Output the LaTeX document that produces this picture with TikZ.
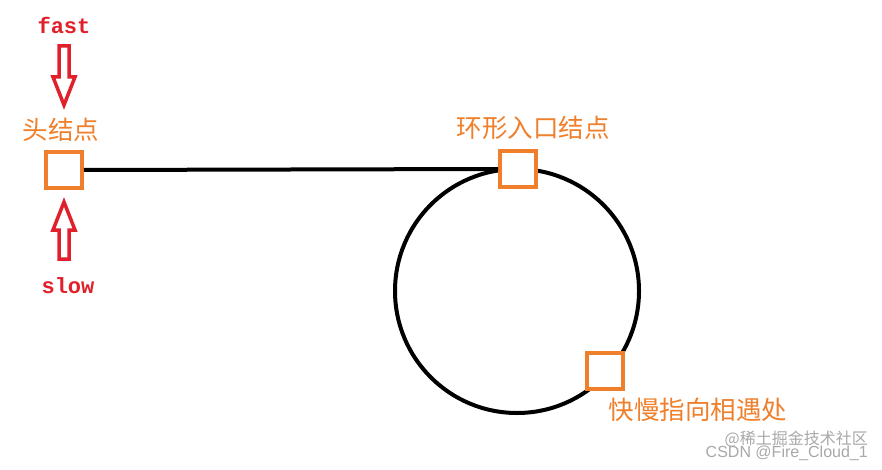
\documentclass[tikz,border=0pt]{standalone}
\usepackage{fontspec}
\setmainfont{Liberation Serif}
\setmonofont{Liberation Mono}
\newfontfamily\cjk{Noto Sans CJK SC}
\newfontfamily\wmfont{Liberation Sans}
\definecolor{redc}{HTML}{E0202A}
\definecolor{orangec}{HTML}{EF7F2A}
\definecolor{wmgray}{HTML}{A8A8A8}
\tikzset{
  x=1pt,y=-1pt,
  nodebox/.style={draw=orangec,line width=4pt,fill=white,minimum size=36pt,inner sep=0pt},
  cjklabel/.style={text=orangec,font=\cjk\fontsize{25.5}{27}\selectfont,inner sep=0pt},
  ptrlabel/.style={text=redc,font=\ttfamily\bfseries\fontsize{22}{24}\selectfont,inner sep=0pt},
  hollowarrow/.style={draw=redc,line width=3.5pt,line join=miter,fill=white},
  link/.style={draw=black,line width=4pt},
  wmtext/.style={text=wmgray,font=\wmfont\fontsize{16}{18}\selectfont,inner sep=0pt,anchor=east}
}
\begin{document}
\begin{tikzpicture}
\useasboundingbox (0,0) rectangle (882,470);
% circle
\draw[link] (517,291) circle[radius=122];
% squares
\node[nodebox] (head) at (64,170) {};
\node[nodebox] (entry) at (518,169) {};
\node[nodebox] (meet) at (605,371) {};
\draw[link] (head.east) -- (entry.west);
% labels
\node[cjklabel] (headlbl) at (61,130) {头结点};
\node[cjklabel] (entrylbl) at (533,128) {环形入口结点};
\node[cjklabel] (meetlbl) at (698,410) {快慢指向相遇处};
\node[ptrlabel] (fast) at (64,25) {fast};
\node[ptrlabel] (slow) at (68,286) {slow};
% hollow arrows
\draw[hollowarrow] (59,46) -- (69,46) -- (69,77) -- (75,77) -- (64,105) -- (53,77) -- (59,77) -- cycle;
\draw[hollowarrow] (59,259) -- (69,259) -- (69,230) -- (75,230) -- (64,202) -- (53,230) -- (59,230) -- cycle;
% watermark
\node[wmtext] (wm2) at (868,453) {CSDN @Fire\_Cloud\_1};
\node[wmtext,font=\cjk\fontsize{16}{18}\selectfont] (wm1) at (868,439) {@稀土掘金技术社区};
\end{tikzpicture}
\end{document}
